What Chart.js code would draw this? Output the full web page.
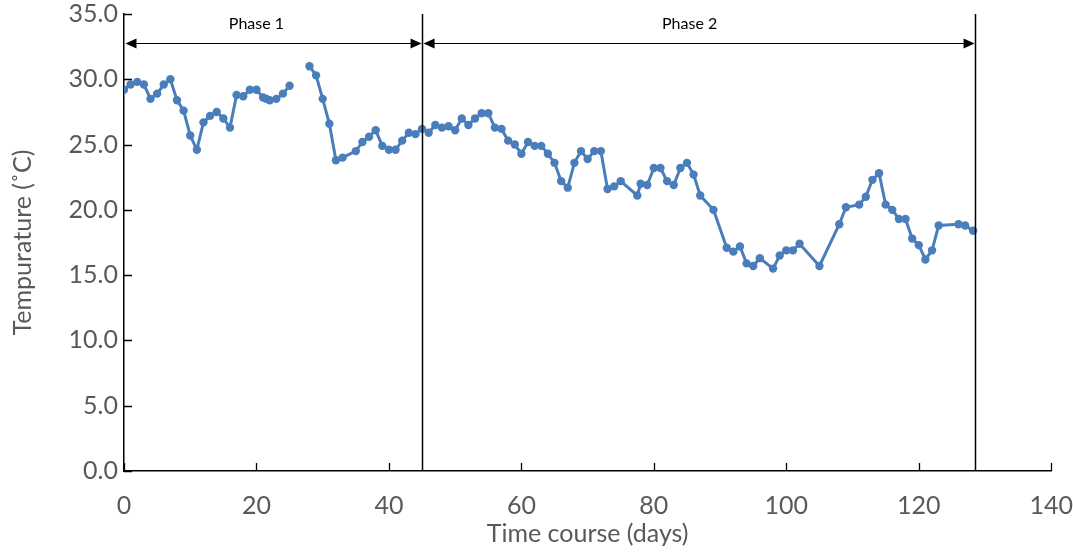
<!DOCTYPE html>
<html>
<head>
<meta charset="utf-8">
<script src="https://cdn.jsdelivr.net/npm/chart.js@4.4.1/dist/chart.umd.min.js"></script>
<style>
  html, body { margin: 0; padding: 0; background: #ffffff; }
  #wrap { width: 1073px; height: 554px; }
</style>
</head>
<body>
<div id="wrap"><canvas id="chart" width="1073" height="554"></canvas></div>
<script>
// Sampling day and measured temperature; null marks the missing readings.
const days = [
  0, 1, 2, 3, 4, 5, 6, 7, 8, 9, 10, 11, 12, 13, 14, 15, 16, 17, 18, 19, 20,
  21, 21.5, 22, 23, 24, 25, 26.5,
  28, 29, 30, 31, 32, 33, 35, 36, 37, 38, 39, 40, 41, 42, 43, 44, 45, 46, 47,
  48, 49, 50, 51, 52, 53, 54, 55, 56, 57, 58, 59, 60, 61, 62, 63, 64, 65, 66,
  67, 68, 69, 70, 71, 72, 73, 74, 75, 77.5, 78, 79, 80, 81, 82, 83, 84, 85,
  86, 87, 89, 91, 92, 93, 94, 95, 96, 98, 99, 100, 101, 102, 105, 108, 109,
  111, 112, 113, 114, 115, 116, 117, 118, 119, 120, 121, 122, 123, 126, 127, 128.2
];
const temps = [
  29.2, 29.6, 29.8, 29.6, 28.5, 28.9, 29.6, 30.0, 28.4, 27.6, 25.7, 24.6, 26.7,
  27.2, 27.5, 27.0, 26.3, 28.8, 28.7, 29.2, 29.2,
  28.6, 28.5, 28.4, 28.5, 28.9, 29.5, null,
  31.0, 30.3, 28.5, 26.6, 23.8, 24.0, 24.5, 25.2, 25.6, 26.1, 24.9, 24.6, 24.6,
  25.3, 25.9, 25.8, 26.2, 25.9, 26.5,
  26.3, 26.4, 26.1, 27.0, 26.5, 27.0, 27.4, 27.4, 26.3, 26.2, 25.3, 25.0, 24.3,
  25.2, 24.9, 24.9, 24.3, 23.6, 22.2,
  21.7, 23.6, 24.5, 23.9, 24.5, 24.5, 21.6, 21.8, 22.2, 21.1, 22.0, 21.9, 23.2,
  23.2, 22.2, 21.9, 23.2, 23.6,
  22.7, 21.1, 20.0, 17.1, 16.8, 17.2, 15.9, 15.7, 16.3, 15.5, 16.5, 16.9, 16.9,
  17.4, 15.7, 18.9, 20.2,
  20.4, 21.0, 22.3, 22.8, 20.4, 20.0, 19.3, 19.3, 17.8, 17.3, 16.2, 16.9, 18.8,
  18.9, 18.8, 18.4
];

// Phase boundaries (days) and their labels
const phaseBounds = [0, 45, 128.5];
const phaseNames = ['Phase 1', 'Phase 2'];
const phaseLabelDays = [20, 85.4];

const xTicks = [0, 20, 40, 60, 80, 100, 120, 140];
const yTicks = [0, 5, 10, 15, 20, 25, 30, 35];

const points = days.map((d, i) => ({ x: d, y: temps[i] }));

const labelFont = '"Lato", "Open Sans", sans-serif';
const grey = '#595959';

// Inside tick marks, phase dividers and double-headed arrows
const phasePlugin = {
  id: 'phases',
  afterDatasetsDraw(chart) {
    const { ctx, chartArea: a, scales: { x, y } } = chart;
    ctx.save();
    ctx.strokeStyle = '#000';
    ctx.lineWidth = 1.3;
    // ticks pointing into the plot
    ctx.beginPath();
    xTicks.forEach(v => {
      const px = Math.round(x.getPixelForValue(v)) + 0.5;
      ctx.moveTo(px, a.bottom);
      ctx.lineTo(px, a.bottom - 8);
    });
    yTicks.forEach(v => {
      const py = Math.round(y.getPixelForValue(v)) + 0.5;
      ctx.moveTo(a.left, py);
      ctx.lineTo(a.left + 8, py);
    });
    ctx.stroke();

    // vertical dividers at the phase ends
    ctx.lineWidth = 1.5;
    ctx.beginPath();
    phaseBounds.slice(1).forEach(v => {
      const px = Math.round(x.getPixelForValue(v)) + 0.5;
      ctx.moveTo(px, y.getPixelForValue(35));
      ctx.lineTo(px, a.bottom);
    });
    ctx.stroke();

    // arrows
    const ay = Math.round(y.getPixelForValue(32.8)) + 0.5;
    ctx.lineWidth = 1.2;
    ctx.fillStyle = '#000';
    const head = (tipX, dir) => {
      ctx.beginPath();
      ctx.moveTo(tipX, ay);
      ctx.lineTo(tipX + dir * 11, ay - 5);
      ctx.lineTo(tipX + dir * 11, ay + 5);
      ctx.closePath();
      ctx.fill();
    };
    for (let i = 0; i < phaseNames.length; i++) {
      const x0 = x.getPixelForValue(phaseBounds[i]) + 1.5;
      const x1 = x.getPixelForValue(phaseBounds[i + 1]) - 0.5;
      ctx.beginPath();
      ctx.moveTo(x0 + 4, ay);
      ctx.lineTo(x1 - 4, ay);
      ctx.stroke();
      head(x0, 1);
      head(x1, -1);
    }

    // phase names
    ctx.font = '16px ' + labelFont;
    ctx.textAlign = 'center';
    ctx.textBaseline = 'middle';
    ctx.fillStyle = '#000';
    phaseNames.forEach((n, i) => {
      ctx.fillText(n, x.getPixelForValue(phaseLabelDays[i]), y.getPixelForValue(34.25));
    });
    ctx.restore();
  }
};

new Chart(document.getElementById('chart'), {
  type: 'line',
  data: {
    datasets: [{
      data: points,
      borderColor: '#4A7EBB',
      backgroundColor: '#4A7EBB',
      borderWidth: 3,
      pointRadius: 4.2,
      pointBorderWidth: 0,
      pointHoverRadius: 4.2,
      tension: 0,
      spanGaps: false
    }]
  },
  options: {
    responsive: false,
    animation: false,
    events: [],
    layout: { padding: { top: 14, right: 0, left: 0, bottom: 0 } },
    plugins: { legend: { display: false }, tooltip: { enabled: false } },
    scales: {
      x: {
        type: 'linear',
        min: 0,
        max: 140,
        afterBuildTicks: s => { s.ticks = xTicks.map(v => ({ value: v })); },
        afterFit: s => { s.height = 83; },
        grid: { display: false, drawTicks: true, tickLength: 20 },
        border: { color: '#000', width: 1.5 },
        ticks: {
          padding: 0,
          color: grey,
          font: { family: labelFont, size: 25 },
          maxRotation: 0,
          callback: v => String(v)
        },
        title: {
          display: true,
          text: 'Time course (days)',
          color: grey,
          font: { family: labelFont, size: 25 },
          padding: { top: 0, bottom: 5 }
        }
      },
      y: {
        min: 0,
        max: 35,
        afterBuildTicks: s => { s.ticks = yTicks.map(v => ({ value: v })); },
        afterFit: s => { s.width = 124; },
        grid: { display: false, drawTicks: true, tickLength: 6 },
        border: { color: '#000', width: 1.5 },
        ticks: {
          padding: 0,
          color: grey,
          font: { family: labelFont, size: 25, lineHeight: 1.05 },
          callback: v => Number(v).toFixed(1)
        },
        title: {
          display: true,
          text: 'Tempurature (˚C)',
          color: grey,
          font: { family: labelFont, size: 25 },
          padding: { top: 8, bottom: 0 }
        }
      }
    }
  },
  plugins: [phasePlugin]
});
</script>
</body>
</html>
